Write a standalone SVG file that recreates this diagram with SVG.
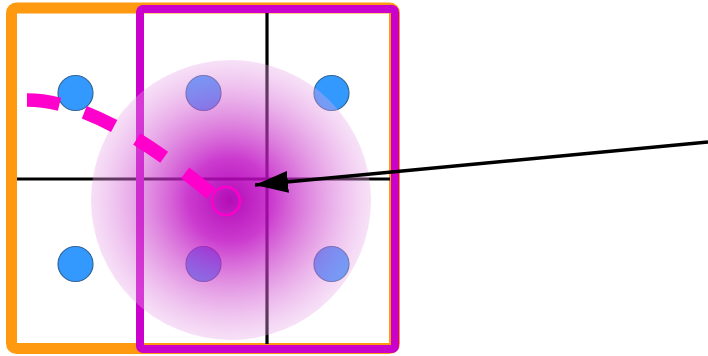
<svg xmlns="http://www.w3.org/2000/svg" width="708" height="356" viewBox="0 0 708 356">
<style>
.grid{stroke:#000;stroke-width:3.2;fill:none}
.dot{fill:#3399FF;stroke:#336699;stroke-width:1.2}
.conn{stroke:#000;stroke-width:3.5;fill:none}
</style>
<defs>
<radialGradient id="glow" cx="230" cy="200" r="140" gradientUnits="userSpaceOnUse">
<stop offset="0" stop-color="#B000B4" stop-opacity="0.95"/>
<stop offset="0.3" stop-color="#C010C4" stop-opacity="0.82"/>
<stop offset="0.65" stop-color="#D050D0" stop-opacity="0.55"/>
<stop offset="1" stop-color="#E8A8E8" stop-opacity="0.35"/>
</radialGradient>
<marker id="arrow" markerUnits="userSpaceOnUse" markerWidth="34" markerHeight="24" refX="33" refY="11" orient="auto">
<path d="M0,0 L33,11 L0,22 Z" fill="#000"/>
</marker>
</defs>
<g id="outer-frame"><rect x="11.5" y="8" width="383" height="340.5" rx="5" fill="#fff" stroke="#FF9910" stroke-width="11"/></g>
<g id="grid">
<line class="grid" x1="267" y1="12" x2="267" y2="344"/>
<line class="grid" x1="17" y1="179" x2="390" y2="179"/>
</g>
<g id="point-tl"><circle class="dot" cx="75.5" cy="93" r="17.5"/></g>
<g id="point-tm"><circle class="dot" cx="203.5" cy="93" r="17.5"/></g>
<g id="point-tr"><circle class="dot" cx="331.5" cy="93" r="17.5"/></g>
<g id="point-bl"><circle class="dot" cx="75.5" cy="264" r="17.5"/></g>
<g id="point-bm"><circle class="dot" cx="203.5" cy="264" r="17.5"/></g>
<g id="point-br"><circle class="dot" cx="331.5" cy="264" r="17.5"/></g>
<g id="window"><rect x="140" y="9" width="255" height="340" rx="3" fill="none" stroke="#CC00CC" stroke-width="8"/></g>
<g id="kernel"><circle cx="231" cy="200" r="140" fill="url(#glow)"/></g>
<g id="connectors">
<path d="M27,100 Q100,100 214,196" fill="none" stroke="#FF00CC" stroke-width="13.5" stroke-dasharray="33 26"/>
<line class="conn" x1="708" y1="142" x2="255" y2="185" marker-end="url(#arrow)"/>
</g>
<g id="sample"><circle cx="226" cy="201" r="14" fill="none" stroke="#FF00CC" stroke-width="2.5"/></g>
</svg>
